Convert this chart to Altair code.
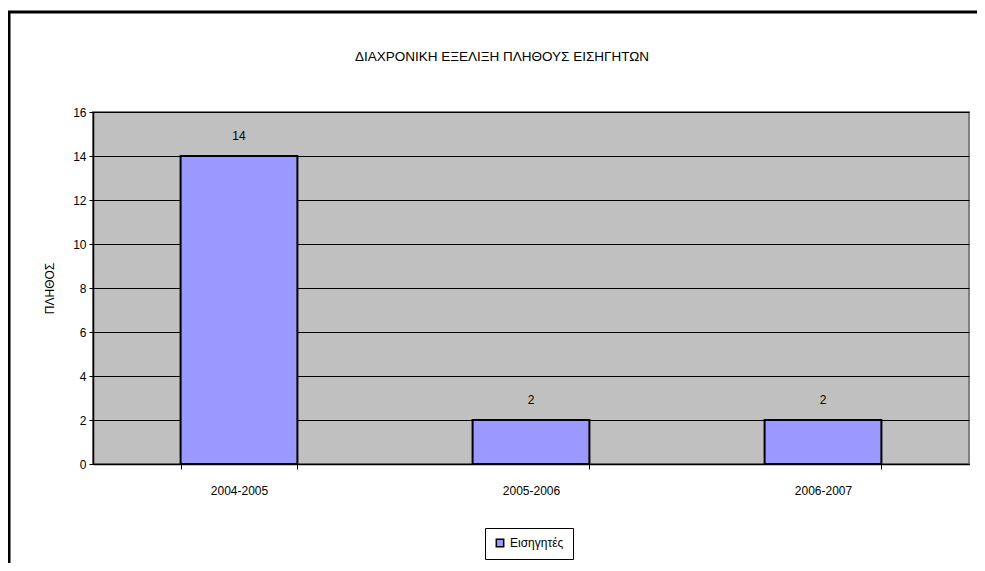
import altair as alt
import pandas as pd

categories = ["2004-2005", "2005-2006", "2006-2007"]
values = [14, 2, 2]
series_name = "Εισηγητές"
title_text = "ΔΙΑΧΡΟΝΙΚΗ ΕΞΕΛΙΞΗ ΠΛΗΘΟΥΣ ΕΙΣΗΓΗΤΩΝ"
y_title = "ΠΛΗΘΟΣ"
y_ticks = [0, 2, 4, 6, 8, 10, 12, 14, 16]

df = pd.DataFrame({"period": categories, "value": values, "series": [series_name] * len(categories)})
FONT = "Liberation Sans"

x_enc = alt.X(
    "period:N",
    sort=categories,
    scale=alt.Scale(paddingInner=0.6, paddingOuter=0.3),
    axis=alt.Axis(
        title=None, labelAngle=0, tickBand="extent", tickSize=5, tickColor="black",
        domainColor="black", domainWidth=1.5, labelPadding=16, labelFont=FONT,
        labelFontSize=12, labelColor="black", grid=False,
    ),
)
y_enc = alt.Y(
    "value:Q",
    scale=alt.Scale(domain=[0, 16], nice=False),
    axis=alt.Axis(
        title=y_title, values=y_ticks, tickSize=4, tickColor="black", domainColor="black",
        domainWidth=1.5, labelPadding=3, labelFont=FONT, labelFontSize=12, labelColor="black",
        titleFont=FONT, titleFontSize=12, titleFontWeight="normal", titleColor="black",
        titlePadding=16, grid=True, gridColor="black", gridWidth=1, gridOpacity=1,
    ),
)

frame = alt.Chart(pd.DataFrame({"k": [0]})).mark_rect(
    filled=False, stroke="black", strokeWidth=3, clip=False
).encode(
    x=alt.value(-84), x2=alt.value(1100), y=alt.value(-100), y2=alt.value(1100)
)

title_mark = alt.Chart(pd.DataFrame({"t": [title_text]})).mark_text(
    font=FONT, fontSize=13.5, color="black", align="center",
    baseline="middle", clip=False
).encode(
    x=alt.value(409), y=alt.value(-55), text="t:N"
)

bars = alt.Chart(df).mark_bar(stroke="black", strokeWidth=2).encode(
    x=x_enc,
    y=y_enc,
    color=alt.Color(
        "series:N",
        scale=alt.Scale(range=["#9999FF"]),
        legend=alt.Legend(
            title=None, orient="none", legendX=392, legendY=416, strokeColor="black",
            padding=9, symbolType="square", symbolSize=55, symbolStrokeColor="black",
            symbolStrokeWidth=1.5, labelFont=FONT, labelFontSize=12, labelColor="black",
            fillColor="white",
        ),
    ),
)

labels = alt.Chart(df).mark_text(dy=-20, font=FONT, fontSize=12, color="black").encode(
    x=alt.X("period:N", sort=categories),
    y="value:Q",
    text="value:Q",
)

chart = alt.layer(frame, title_mark, bars, labels).properties(
    width=876,
    height=352,
    autosize=alt.AutoSizeParams(type="none"),
    padding={"left": 85, "top": 104, "right": 8, "bottom": 99},
    background="white",
).configure_view(
    fill="#C0C0C0", stroke="#808080", strokeWidth=2
)

chart.save("out.html", embed_options={"renderer": "svg", "actions": False})
